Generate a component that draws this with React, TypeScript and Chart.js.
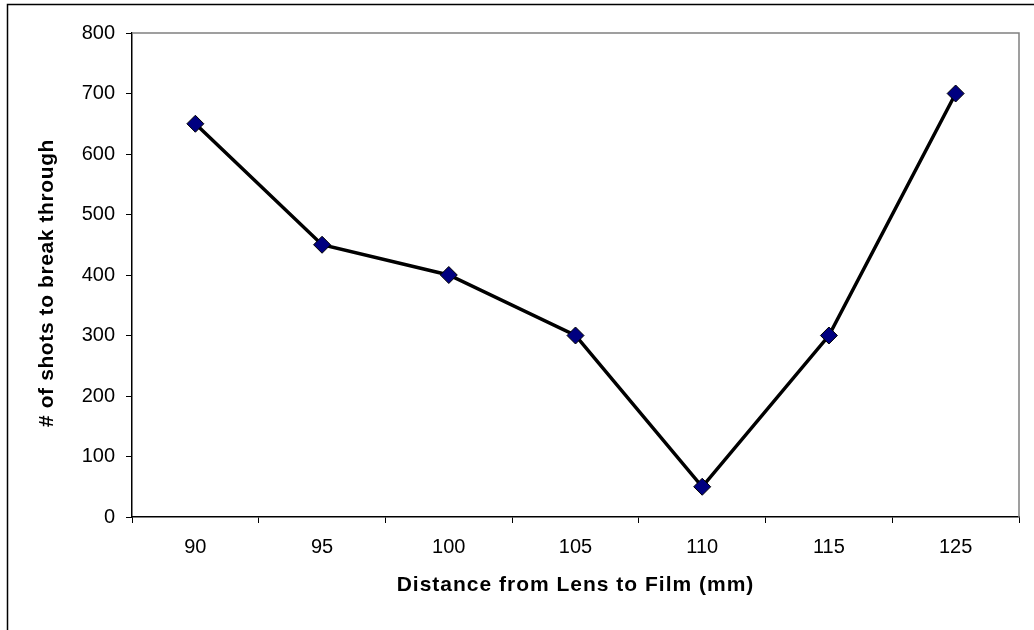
import React, { useEffect, useRef } from "react";
import { Chart, registerables } from "chart.js";

Chart.register(...registerables);

const categories: string[] = ["90", "95", "100", "105", "110", "115", "125"];
const shotsValues: number[] = [650, 450, 400, 300, 50, 300, 700];
const yMin = 0;
const yMax = 800;
const yStep = 100;
const xTitle = "Distance from Lens to Film (mm)";
const yTitle = "# of shots to break through";

const FONT = "'Liberation Sans', Arial, Helvetica, sans-serif";

const framePlugin = {
  id: "frame",
  beforeDraw(chart: any) {
    const ctx = chart.ctx;
    ctx.save();
    ctx.fillStyle = "#ffffff";
    ctx.fillRect(0, 0, chart.width, chart.height);
    ctx.strokeStyle = "#000000";
    ctx.lineWidth = 1.5;
    ctx.strokeRect(7.5, 4.5, chart.width + 20, chart.height + 20);
    ctx.restore();
  },
  beforeDatasetsDraw(chart: any) {
    const { ctx, chartArea } = chart;
    ctx.save();
    ctx.strokeStyle = "#808080";
    ctx.lineWidth = 1.5;
    ctx.beginPath();
    ctx.moveTo(chartArea.left, chartArea.top);
    ctx.lineTo(chartArea.right, chartArea.top);
    ctx.lineTo(chartArea.right, chartArea.bottom);
    ctx.stroke();
    ctx.restore();
  },
  afterDraw(chart: any) {
    const { ctx, chartArea } = chart;
    ctx.save();
    ctx.fillStyle = "#000000";
    ctx.font = `bold 21px ${FONT}`;
    ctx.textAlign = "center";
    ctx.textBaseline = "middle";
    (ctx as any).letterSpacing = "1px";
    ctx.fillText(xTitle, (chartArea.left + chartArea.right) / 2, 585);
    (ctx as any).letterSpacing = "0.6px";
    ctx.translate(47, (chartArea.top + chartArea.bottom) / 2 + 8);
    ctx.rotate(-Math.PI / 2);
    ctx.fillText(yTitle, 0, 0);
    ctx.restore();
  },
};

export default function App() {
  const canvasRef = useRef<HTMLCanvasElement | null>(null);

  useEffect(() => {
    if (!canvasRef.current) return;
    const chart = new Chart(canvasRef.current, {
      type: "line",
      data: {
        labels: categories,
        datasets: [
          {
            data: shotsValues,
            borderColor: "#000000",
            borderWidth: 3.5,
            pointStyle: "rectRot",
            pointRadius: 8.5,
            pointHoverRadius: 8.5,
            pointBackgroundColor: "#000080",
            pointBorderColor: "#000000",
            pointBorderWidth: 1,
            tension: 0,
            fill: false,
          },
        ],
      },
      options: {
        responsive: false,
        animation: false,
        events: [],
        layout: { padding: { top: 33, right: 15, left: 0, bottom: 0 } },
        plugins: {
          legend: { display: false },
          tooltip: { enabled: false },
          title: { display: false },
        },
        scales: {
          x: {
            type: "category",
            offset: true,
            afterFit: (scale: any) => {
              scale.height = 113;
            },
            grid: {
              offset: true,
              drawOnChartArea: false,
              drawTicks: true,
              tickLength: 6,
              color: "#000000",
              lineWidth: 1,
            },
            border: { display: true, color: "#000000", width: 1.5 },
            ticks: {
              color: "#000000",
              font: { family: FONT, size: 20 },
              padding: 12,
              maxRotation: 0,
              autoSkip: false,
            },
            title: { display: false },
          },
          y: {
            min: yMin,
            max: yMax,
            afterFit: (scale: any) => {
              scale.width = 132;
            },
            grid: {
              drawOnChartArea: false,
              drawTicks: true,
              tickLength: 6,
              color: "#000000",
              lineWidth: 1,
            },
            border: { display: true, color: "#000000", width: 1.5 },
            ticks: {
              stepSize: yStep,
              color: "#000000",
              font: { family: FONT, size: 20 },
              padding: 11,
            },
            title: { display: false },
          },
        },
      },
      plugins: [framePlugin],
    });
    return () => chart.destroy();
  }, []);

  return (
    <div style={{ position: "fixed", left: 0, top: 0, width: 1034, height: 630, background: "#fff" }}>
      <canvas ref={canvasRef} width={1034} height={630} style={{ display: "block" }} />
    </div>
  );
}
